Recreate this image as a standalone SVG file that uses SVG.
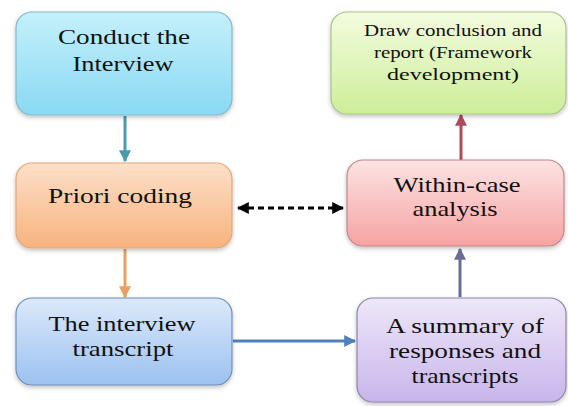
<svg xmlns="http://www.w3.org/2000/svg" width="568" height="406" viewBox="0 0 568 406">
<defs>
<linearGradient id="gCyan" x1="0" y1="0" x2="0" y2="1"><stop offset="0" stop-color="#c4f0fc"/><stop offset="1" stop-color="#8ad9f3"/></linearGradient>
<linearGradient id="gOrange" x1="0" y1="0" x2="0" y2="1"><stop offset="0" stop-color="#fde0c8"/><stop offset="1" stop-color="#f7b27e"/></linearGradient>
<linearGradient id="gBlue" x1="0" y1="0" x2="0" y2="1"><stop offset="0" stop-color="#dce9fb"/><stop offset="1" stop-color="#9cc1f0"/></linearGradient>
<linearGradient id="gPink" x1="0" y1="0" x2="0" y2="1"><stop offset="0" stop-color="#fde3e3"/><stop offset="1" stop-color="#f6a2a2"/></linearGradient>
<linearGradient id="gPurple" x1="0" y1="0" x2="0" y2="1"><stop offset="0" stop-color="#eee7f9"/><stop offset="1" stop-color="#c8b5eb"/></linearGradient>
<linearGradient id="gGreen" x1="0" y1="0" x2="0" y2="1"><stop offset="0" stop-color="#f3fcdf"/><stop offset="1" stop-color="#cdee98"/></linearGradient>
<filter id="sh" x="-10%" y="-10%" width="120%" height="130%"><feDropShadow dx="0" dy="2" stdDeviation="2" flood-color="#000" flood-opacity="0.25"/></filter>
<marker id="mTeal" viewBox="0 0 10 10" refX="9" refY="5" markerWidth="4" markerHeight="4" orient="auto"><path d="M0,0 L10,5 L0,10 z" fill="#4a9ab0"/></marker>
<marker id="mOrange" viewBox="0 0 10 10" refX="9" refY="5" markerWidth="4" markerHeight="4" orient="auto"><path d="M0,0 L10,5 L0,10 z" fill="#e8a060"/></marker>
<marker id="mBlue" viewBox="0 0 10 10" refX="9" refY="5" markerWidth="4" markerHeight="4" orient="auto"><path d="M0,0 L10,5 L0,10 z" fill="#4f80b8"/></marker>
<marker id="mPurple" viewBox="0 0 10 10" refX="9" refY="5" markerWidth="4" markerHeight="4" orient="auto"><path d="M0,0 L10,5 L0,10 z" fill="#6a6c98"/></marker>
<marker id="mRed" viewBox="0 0 10 10" refX="9" refY="5" markerWidth="4" markerHeight="4" orient="auto"><path d="M0,0 L10,5 L0,10 z" fill="#b04a5a"/></marker>
<marker id="mBlack" viewBox="0 0 10 10" refX="9" refY="5" markerWidth="4" markerHeight="4" orient="auto-start-reverse"><path d="M0,0 L10,5 L0,10 z" fill="#000"/></marker>
</defs>
<style>
.box{filter:url(#sh);stroke-width:1.2}
.t{font-family:"Liberation Serif","Times New Roman",serif;font-size:22px;fill:#111;text-anchor:middle}
.ts{font-family:"Liberation Serif","Times New Roman",serif;font-size:17px;fill:#111;text-anchor:middle}
.c{fill:none;stroke-width:3}
</style>
<rect width="568" height="406" fill="#ffffff"/>
<g id="connectors">
<line class="c" x1="125" y1="116" x2="125" y2="161" stroke="#4a9ab0" marker-end="url(#mTeal)"/>
<line class="c" x1="125" y1="249" x2="125" y2="297" stroke="#e8a060" marker-end="url(#mOrange)"/>
<line class="c" x1="233" y1="341" x2="355" y2="341" stroke="#4f80b8" stroke-width="2" marker-end="url(#mBlue)"/>
<line class="c" x1="460" y1="297" x2="460" y2="249" stroke="#6a6c98" marker-end="url(#mPurple)"/>
<line class="c" x1="461" y1="160" x2="461" y2="115" stroke="#b04a5a" marker-end="url(#mRed)"/>
<line class="c" x1="238" y1="208" x2="343" y2="208" stroke="#000" stroke-width="2" stroke-dasharray="6,4" marker-start="url(#mBlack)" marker-end="url(#mBlack)"/>
</g>
<g id="n1">
<rect class="box" x="16" y="12" width="216" height="103" rx="16" fill="url(#gCyan)" stroke="#84b9c9"/>
<text class="t" x="124" y="44" textLength="132" lengthAdjust="spacingAndGlyphs">Conduct the</text>
<text class="t" x="123" y="71" textLength="101" lengthAdjust="spacingAndGlyphs">Interview</text>
</g>
<g id="n2">
<rect class="box" x="16" y="163" width="216" height="85" rx="16" fill="url(#gOrange)" stroke="#e0a878"/>
<text class="t" x="120" y="203" textLength="144" lengthAdjust="spacingAndGlyphs">Priori coding</text>
</g>
<g id="n3">
<rect class="box" x="16" y="298" width="216" height="87" rx="16" fill="url(#gBlue)" stroke="#6f8fb8"/>
<text class="t" x="122" y="331" textLength="147" lengthAdjust="spacingAndGlyphs">The interview</text>
<text class="t" x="123" y="356" textLength="101" lengthAdjust="spacingAndGlyphs">transcript</text>
</g>
<g id="n4">
<rect class="box" x="347" y="160" width="217" height="86" rx="16" fill="url(#gPink)" stroke="#c08888"/>
<text class="t" x="457" y="192" textLength="127" lengthAdjust="spacingAndGlyphs">Within-case</text>
<text class="t" x="455" y="216" textLength="85" lengthAdjust="spacingAndGlyphs">analysis</text>
</g>
<g id="n5">
<rect class="box" x="357" y="298" width="209" height="104" rx="16" fill="url(#gPurple)" stroke="#8d85a8"/>
<text class="t" x="465" y="333" textLength="158" lengthAdjust="spacingAndGlyphs">A summary of</text>
<text class="t" x="465" y="358" textLength="152" lengthAdjust="spacingAndGlyphs">responses and</text>
<text class="t" x="465" y="383" textLength="107" lengthAdjust="spacingAndGlyphs">transcripts</text>
</g>
<g id="n6">
<rect class="box" x="331" y="12" width="235" height="102" rx="16" fill="url(#gGreen)" stroke="#a8c48a"/>
<text class="ts" x="453" y="36" textLength="178" lengthAdjust="spacingAndGlyphs">Draw conclusion and</text>
<text class="ts" x="453" y="58" textLength="158" lengthAdjust="spacingAndGlyphs">report (Framework</text>
<text class="ts" x="453" y="80" textLength="132" lengthAdjust="spacingAndGlyphs">development)</text>
</g>
</svg>
